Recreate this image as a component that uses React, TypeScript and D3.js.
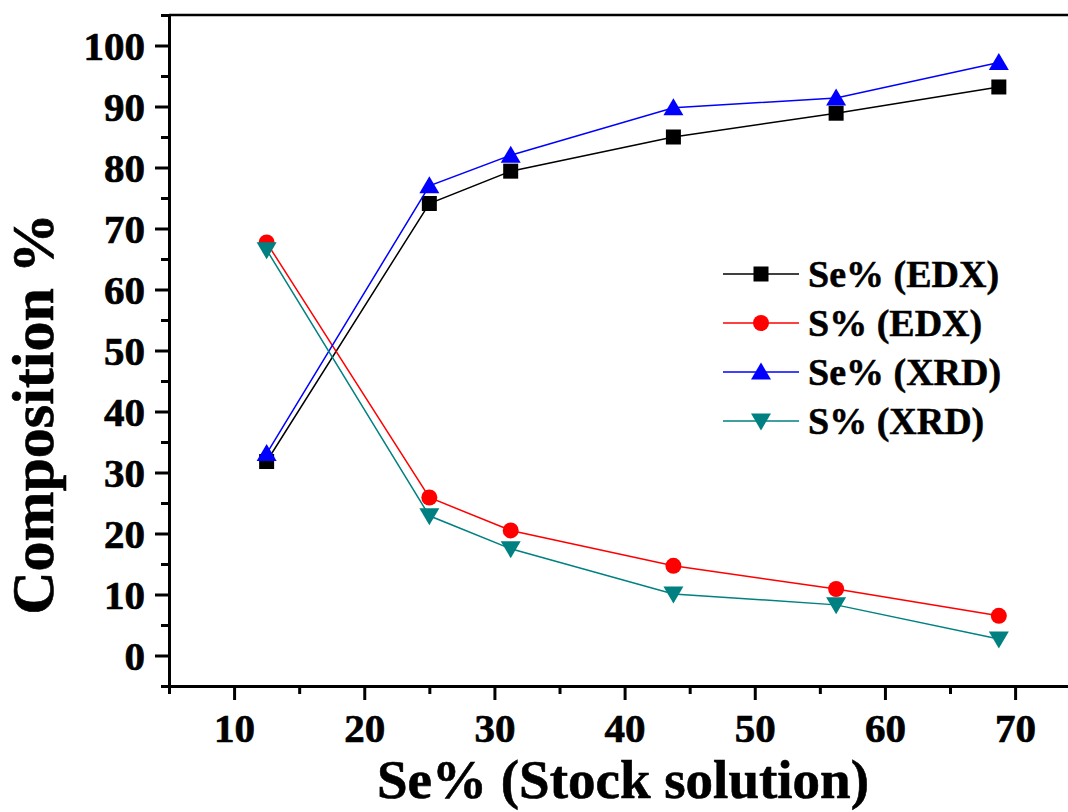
import React, { useEffect, useRef } from "react";
import * as d3 from "d3";

// Se% in the stock solution
const stockSe = [12.5, 25, 31.25, 43.75, 56.25, 68.75];

// measured compositions
const seEdx = [31.8, 74.1, 79.4, 85.0, 88.9, 93.2];
const sEdx = [67.7, 25.9, 20.5, 14.7, 10.9, 6.5];
const seXrd = [33.1, 77.0, 82.0, 89.8, 91.4, 97.2];
const sXrd = [66.5, 22.9, 17.5, 10.1, 8.3, 2.7];

const xTicks = [10, 20, 30, 40, 50, 60, 70];
const xMinor = [5, 15, 25, 35, 45, 55, 65, 75];
const yTicks = [0, 10, 20, 30, 40, 50, 60, 70, 80, 90, 100];
const yMinor = [-5, 5, 15, 25, 35, 45, 55, 65, 75, 85, 95, 105];

const seriesNames = ["Se% (EDX)", "S% (EDX)", "Se% (XRD)", "S% (XRD)"];
const seriesColors = ["#000000", "#ff0000", "#0000ff", "#008080"];
const seriesSymbols = ["square", "circle", "up", "down"];

const FONT = "'Liberation Serif', 'Times New Roman', serif";

const App = () => {
  const ref = useRef<SVGSVGElement>(null);

  useEffect(() => {
    const svg = d3.select(ref.current);
    svg.selectAll("*").remove();

    const width = 1068;
    const height = 812;
    const left = 169;
    const top = 15;
    const bottom = 686;

    const x = d3.scaleLinear().domain([5, 75]).range([left, left + 70 * 13.017]);
    const y = d3.scaleLinear().domain([-5, 105]).range([bottom, top]);

    const allSeries = [seEdx, sEdx, seXrd, sXrd];

    // top border
    svg
      .append("line")
      .attr("x1", left)
      .attr("x2", width)
      .attr("y1", top)
      .attr("y2", top)
      .attr("stroke", "#000")
      .attr("stroke-width", 2.5);

    // x axis
    const gx = svg.append("g").attr("transform", `translate(0, ${bottom})`);
    gx.call(
      d3.axisBottom(x).tickValues(xTicks).tickSize(14).tickSizeOuter(0).tickPadding(13)
    );
    const gxm = svg.append("g").attr("transform", `translate(0, ${bottom})`);
    gxm.call(
      d3.axisBottom(x).tickValues(xMinor).tickSize(8).tickSizeOuter(0).tickFormat(() => "")
    );
    gxm.select(".domain").remove();

    // y axis
    const gy = svg.append("g").attr("transform", `translate(${left}, 0)`);
    gy.call(
      d3.axisLeft(y).tickValues(yTicks).tickSize(14).tickSizeOuter(0).tickPadding(10)
    );
    const gym = svg.append("g").attr("transform", `translate(${left}, 0)`);
    gym.call(
      d3.axisLeft(y).tickValues(yMinor).tickSize(8).tickSizeOuter(0).tickFormat(() => "")
    );
    gym.select(".domain").remove();

    [gx, gxm, gy, gym].forEach((g) => {
      g.selectAll("path, line").attr("stroke", "#000").attr("stroke-width", 3);
      g.selectAll("text")
        .attr("fill", "#000")
        .attr("stroke", "#000")
        .attr("stroke-width", 0.7)
        .style("font-family", FONT)
        .style("font-weight", "bold")
        .style("font-size", "41px");
    });
    gy.selectAll("text").attr("dy", "0.34em");

    // axis titles
    svg
      .append("text")
      .attr("x", 623)
      .attr("y", 798)
      .attr("text-anchor", "middle")
      .attr("stroke", "#000")
      .attr("stroke-width", 0.6)
      .style("font-family", FONT)
      .style("font-weight", "bold")
      .style("font-size", "55px")
      .text("Se% (Stock solution)");

    svg
      .append("text")
      .attr("transform", "translate(53, 414) rotate(-90)")
      .attr("text-anchor", "middle")
      .attr("stroke", "#000")
      .attr("stroke-width", 0.6)
      .style("font-family", FONT)
      .style("font-weight", "bold")
      .style("font-size", "60px")
      .text("Composition %");

    const drawSymbol = (g, kind, cx, cy, color) => {
      if (kind === "square") {
        g.append("rect")
          .attr("x", cx - 7.5)
          .attr("y", cy - 7.5)
          .attr("width", 15)
          .attr("height", 15)
          .attr("fill", color);
      } else if (kind === "circle") {
        g.append("circle").attr("cx", cx).attr("cy", cy).attr("r", 8).attr("fill", color);
      } else {
        const s = 10;
        const h = 17;
        const pts =
          kind === "up"
            ? [[cx, cy - h / 2 - 1], [cx - s, cy + h / 2 - 1], [cx + s, cy + h / 2 - 1]]
            : [[cx, cy + h / 2 + 1], [cx - s, cy - h / 2 + 1], [cx + s, cy - h / 2 + 1]];
        g.append("polygon").attr("points", pts.map((p) => p.join(",")).join(" ")).attr("fill", color);
      }
    };

    const line = d3
      .line<[number, number]>()
      .x((d) => x(d[0]))
      .y((d) => y(d[1]));

    // series
    allSeries.forEach((vals, i) => {
      const g = svg.append("g");
      const pts = stockSe.map((sx, j) => [sx, vals[j]] as [number, number]);
      g.append("path")
        .attr("d", line(pts))
        .attr("fill", "none")
        .attr("stroke", seriesColors[i])
        .attr("stroke-width", 1.5);
      pts.forEach((p) => drawSymbol(g, seriesSymbols[i], x(p[0]), y(p[1]), seriesColors[i]));
    });

    // legend
    const lg = svg.append("g");
    seriesNames.forEach((name, i) => {
      const ly = 274 + i * 49;
      lg.append("line")
        .attr("x1", 723)
        .attr("x2", 799)
        .attr("y1", ly)
        .attr("y2", ly)
        .attr("stroke", seriesColors[i])
        .attr("stroke-width", 1.5);
      drawSymbol(lg, seriesSymbols[i], 761, ly, seriesColors[i]);
      lg.append("text")
        .attr("x", 808)
        .attr("y", ly + 13)
        .attr("stroke", "#000")
        .attr("stroke-width", 0.5)
        .style("font-family", FONT)
        .style("font-weight", "bold")
        .style("font-size", "38px")
        .text(name);
    });

    svg.attr("width", width).attr("height", height);
  }, []);

  return (
    <svg
      ref={ref}
      width={1068}
      height={812}
      style={{ position: "absolute", left: 0, top: 0, background: "#fff" }}
    />
  );
};

export default App;
